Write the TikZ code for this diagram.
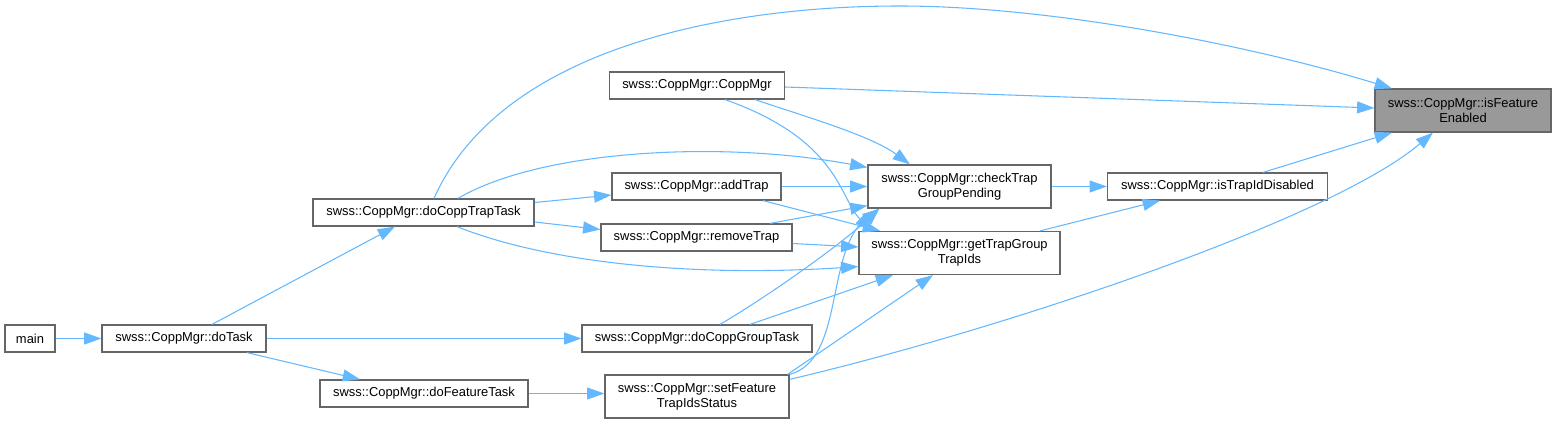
\documentclass[tikz,border=0pt]{standalone}
\usepackage{fontspec}
\setmainfont{Liberation Sans}
\usepackage{tikz}
\usetikzlibrary{arrows.meta,calc}
\definecolor{callblue}{RGB}{99,184,255}
\definecolor{boxgray}{RGB}{102,102,102}
\definecolor{hlgray}{RGB}{153,153,153}

\begin{document}
\begin{tikzpicture}[x=0.75pt,y=-0.75pt,
    fn/.style={draw=boxgray,line width=0.9pt,fill=white,align=center,inner sep=1pt,
      font=\fontsize{9.7}{11.5}\selectfont},
    call/.style={draw=callblue,line width=0.8pt,-{Triangle[length=13pt,width=9pt]}}]
  \useasboundingbox (0,0) rectangle (1556,424);
  % --- functions: name/cx/cy/width/height/label (px, y down) ---
  \foreach \nm/\cx/\cy/\w/\h/\lab in {main/30/338.5/50/27/{main},
      dotask/184/338.5/164/27/{swss::CoppMgr::doTask},
      dctt/423.5/212.5/221/27/{swss::CoppMgr::doCoppTrapTask},
      dft/424/393.5/208/27/{swss::CoppMgr::doFeatureTask},
      ctor/697/85.5/175/27/{swss::CoppMgr::CoppMgr},
      addtrap/696.5/186.5/169/27/{swss::CoppMgr::addTrap},
      rmtrap/696.5/237.5/191/27/{swss::CoppMgr::removeTrap},
      dcgt/697/338.5/230/27/{swss::CoppMgr::doCoppGroupTask},
      sfts/697/396.5/184/43/{swss::CoppMgr::setFeature\\TrapIdsStatus},
      ctgp/959.5/186.5/183/43/{swss::CoppMgr::checkTrap\\GroupPending},
      gtgt/959.5/253/201/43/{swss::CoppMgr::getTrapGroup\\TrapIds},
      itd/1217.5/186.5/220/27/{swss::CoppMgr::isTrapIdDisabled}}{%
    \node[fn,minimum width=\w*0.75pt,minimum height=\h*0.75pt] (\nm) at (\cx,\cy) {\lab};}
  % --- the documented function ---
  \node[fn,fill=hlgray,minimum width=176*0.75pt,minimum height=43*0.75pt] (ife) at (1463,110.5)
    {swss::CoppMgr::isFeature\\Enabled};
  % --- calls from main / doTask ---
  \draw[call] (main.east) -- (dotask.west);
  \draw[call] ($(dotask.north)+(28,0)$) -- ($(dctt.south)+(-28.5,0)$);
  \draw[call] (dotask.east) -- (dcgt.west);
  \draw[call] ($(dotask.south)+(63,0)$) -- ($(dft.north)+(-64,0)$);
  % --- calls from doCoppTrapTask ---
  \draw[call] ($(dctt.north)+(10.5,0)$) .. controls (500,50) and (720,6) .. (900,6)
    .. controls (1050,6) and (1250,45) .. ($(ife.north)+(-71,0)$);
  \draw[call] ($(dctt.north)+(34.5,0)$) .. controls (540,150) and (720,140) .. ($(ctgp.north west)+(0,3)$);
  \draw[call] ($(dctt.east)+(0,-10)$) -- ($(addtrap.west)+(0,8.5)$);
  \draw[call] ($(dctt.east)+(0,9.5)$) -- ($(rmtrap.west)+(0,-8)$);
  \draw[call] ($(dctt.south)+(33.5,0)$) .. controls (540,260) and (680,278) .. ($(gtgt.south west)+(0,-8.5)$);
  % --- calls from the middle column ---
  \draw[call] ($(ctor.east)+(0,1.5)$) -- ($(ife.west)+(0,-2.5)$);
  \draw[call] ($(ctor.south)+(58,0)$) .. controls (800,115) and (870,135) .. ($(ctgp.north)+(-49.5,0)$);
  \draw[call] ($(ctor.south)+(28,0)$) .. controls (840,140) and (840,200) .. ($(gtgt.north west)+(14,0)$);
  \draw[call] (addtrap.east) -- (ctgp.west);
  \draw[call] ($(addtrap.south)+(66.5,0)$) -- ($(gtgt.north)+(-79.5,0)$);
  \draw[call] ($(rmtrap.north)+(73.5,0)$) -- ($(ctgp.south west)+(0,-3)$);
  \draw[call] ($(rmtrap.east)+(0,6)$) -- ($(gtgt.west)+(0,-6)$);
  \draw[call] ($(dcgt.north)+(23,0)$) .. controls (770,295) and (840,245) .. ($(ctgp.south)+(-80,0)$);
  \draw[call] ($(dcgt.north)+(53,0)$) -- ($(gtgt.south)+(-66.5,0)$);
  \draw[call] (sfts.north east) .. controls (845,360) and (825,250) .. ($(ctgp.south)+(-80,0)$);
  \draw[call] ($(sfts.north east)+(-2,0)$) -- ($(gtgt.south)+(-26.5,0)$);
  \draw[call] ($(sfts.north east)+(0,5)$) .. controls (1000,330) and (1330,220) .. ($(ife.south)+(-30,0)$);
  \draw[call] (dft.east) -- (dft.east -| sfts.west);
  % --- calls on the right ---
  \draw[call] (ctgp.east) -- (itd.west);
  \draw[call] ($(gtgt.north)+(80.5,0)$) -- ($(itd.south)+(-57.5,0)$);
  \draw[call] ($(itd.north)+(45.5,0)$) -- ($(ife.south)+(-71,0)$);
\end{tikzpicture}
\end{document}
